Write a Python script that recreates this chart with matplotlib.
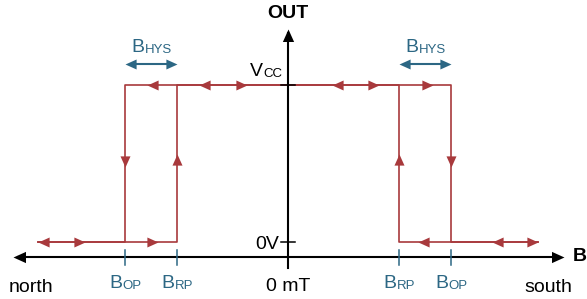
import matplotlib.pyplot as plt

plt.rcParams['font.family'] = ['Liberation Sans', 'DejaVu Sans']

# switching points (mT, arbitrary scale) and output levels (0 = 0V, 1 = Vcc)
b_op = 16.3
b_rp = 11.1
b_end = 25.0
out_low = 0.0
out_high = 1.0

# sweep from north to south and back again
sweep_up_x = [-b_end, -b_rp, -b_rp, b_op, b_op, b_end]
sweep_up_y = [out_low, out_low, out_high, out_high, out_low, out_low]
sweep_down_x = [b_end, b_rp, b_rp, -b_op, -b_op, -b_end]
sweep_down_y = [out_low, out_low, out_high, out_high, out_low, out_low]

# arrowhead tips along the traces
right_x = [-20.3, -13.0, -4.1, 9.1, 14.5, 25.0]
right_y = [0, 0, 1, 1, 1, 0]
left_x = [-25.0, -14.1, -8.9, 4.4, 13.0, 20.4]
left_y = [0, 1, 1, 1, 0, 0]
up_x = [-b_rp, b_rp]
up_y = [0.56, 0.56]
down_x = [-b_op, b_op]
down_y = [0.475, 0.475]

red = '#a8393c'
teal = '#2c6784'

# arrowhead markers with the tip at the origin
head_r = [(0, 0), (-1, 0.45), (-1, -0.45), (0, 0)]
head_l = [(0, 0), (1, 0.45), (1, -0.45), (0, 0)]
head_u = [(0, 0), (0.45, -1), (-0.45, -1), (0, 0)]
head_d = [(0, 0), (0.45, 1), (-0.45, 1), (0, 0)]

fig = plt.figure(figsize=(5.87, 2.99), dpi=100)
ax = fig.add_axes([0, 0, 1, 1])
ax.set_xlim(-28.8, 29.9)
ax.set_ylim(-0.363, 1.541)
ax.axis('off')

# axes with arrows
ax_y = -0.0955
ax.plot([-27.0, 27.0], [ax_y, ax_y], color='black', lw=1.5, zorder=5)
ax.plot([0, 0], [-0.166, 1.33], color='black', lw=1.5, zorder=5)
ax.plot([-27.5], [ax_y], marker=head_l, ms=18, color='black', mew=0, zorder=6)
ax.plot([27.6], [ax_y], marker=head_r, ms=18, color='black', mew=0, zorder=6)
ax.plot([0], [1.357], marker=head_u, ms=18, color='black', mew=0, zorder=6)
for lvl in [out_low, out_high]:
    ax.plot([-0.7, 0.7], [lvl, lvl], color='black', lw=1.1, zorder=6)

# hysteresis traces
ax.plot(sweep_up_x, sweep_up_y, color=red, lw=1.2, zorder=3)
ax.plot(sweep_down_x, sweep_down_y, color=red, lw=1.2, zorder=3)
ax.plot(right_x, right_y, ls='none', marker=head_r, ms=16, color=red, mew=0, zorder=4)
ax.plot(left_x, left_y, ls='none', marker=head_l, ms=16, color=red, mew=0, zorder=4)
ax.plot(up_x, up_y, ls='none', marker=head_u, ms=16, color=red, mew=0, zorder=4)
ax.plot(down_x, down_y, ls='none', marker=head_d, ms=16, color=red, mew=0, zorder=4)

# B_OP / B_RP ticks on the field axis
for bx in [-b_op, -b_rp, b_rp, b_op]:
    ax.plot([bx, bx], [-0.051, -0.146], color=teal, lw=1.1, zorder=6)

# hysteresis width arrows
hys_y = 1.134
for x0, x1 in [(-b_op, -b_rp), (b_rp, b_op)]:
    ax.plot([x0 + 0.8, x1 - 0.8], [hys_y, hys_y], color=teal, lw=1.5)
    ax.plot([x0], [hys_y], marker=head_l, ms=16, color=teal, mew=0)
    ax.plot([x1], [hys_y], marker=head_r, ms=16, color=teal, mew=0)


def sub_label(x, y, main, sub, color, dx, ha='center'):
    t = ax.annotate(main, xy=(x, y), xytext=(dx, 0), textcoords='offset pixels',
                    ha=ha, va='baseline', fontsize=14, color=color)
    ax.annotate(sub, xy=(1, 0), xycoords=t, ha='left', va='bottom',
                fontsize=9.5, color=color)


lbl_y = -0.293
sub_label(-b_op, lbl_y, 'B', 'OP', teal, -9)
sub_label(-b_rp, lbl_y, 'B', 'RP', teal, -9)
sub_label(b_rp, lbl_y, 'B', 'RP', teal, -9)
sub_label(b_op, lbl_y, 'B', 'OP', teal, -9)
sub_label(-(b_op + b_rp) / 2, 1.21, 'B', 'HYS', teal, -13)
sub_label((b_op + b_rp) / 2, 1.21, 'B', 'HYS', teal, -13)
sub_label(-2.5, 1.057, 'V', 'CC', 'black', 0, ha='right')

ax.text(-0.9, -0.045, '0V', ha='right', va='baseline', fontsize=14)
ax.text(-25.65, -0.318, 'north', ha='center', va='baseline', fontsize=14)
ax.text(26.0, -0.318, 'south', ha='center', va='baseline', fontsize=14)
ax.text(0, -0.312, '0 mT', ha='center', va='baseline', fontsize=14)
ax.text(0, 1.455, 'OUT', ha='center', va='center', fontsize=14, fontweight='bold')
ax.text(28.5, ax_y, 'B', ha='left', va='center', fontsize=14, fontweight='bold')

fig.savefig('out.png', dpi=100)
